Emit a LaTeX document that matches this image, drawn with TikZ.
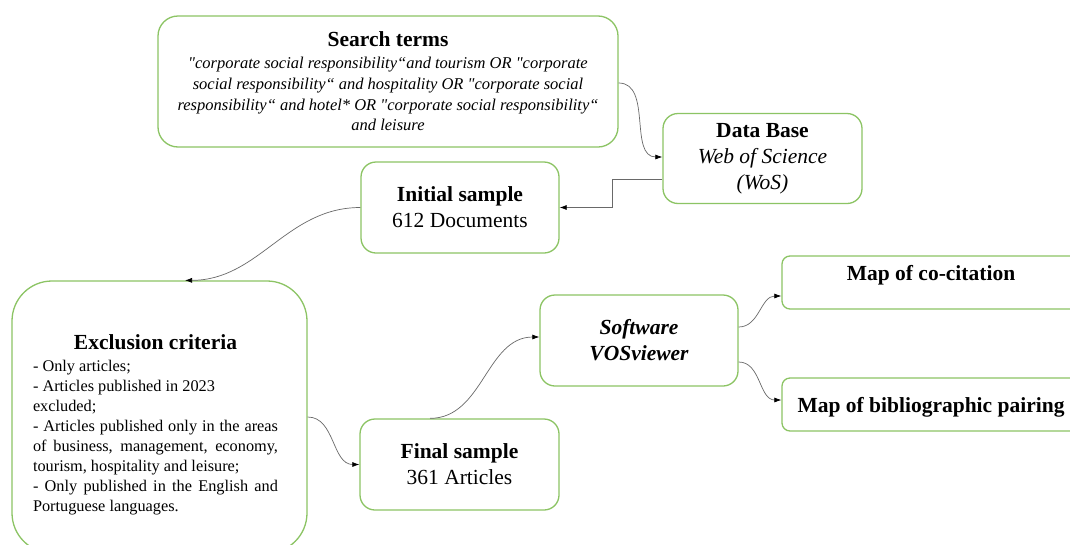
\documentclass[tikz,border=0pt]{standalone}
\usepackage{fontspec}
\setmainfont{Liberation Serif}[Ligatures=TeXOff]
\usetikzlibrary{arrows.meta}
\definecolor{boxgreen}{RGB}{140,196,100}
\definecolor{conngray}{RGB}{105,105,105}
\begin{document}
\begin{tikzpicture}[x=1pt,y=-1pt,
  box/.style={draw=boxgreen,line width=1.3pt,rounded corners=15pt,inner sep=0pt,align=center,fill=white},
  hfont/.style={font=\fontsize{21.5}{26}\selectfont},
  conn/.style={draw=conngray,line width=0.7pt,-{Latex[length=7pt,width=5pt,black]}}]
\useasboundingbox (0,0) rectangle (1070,544);
\clip (0,0) rectangle (1070,544);
\fill[white] (0,0) rectangle (1070,544);

% boxes
\node[box,rounded corners=20pt,minimum width=460pt,minimum height=131pt,
      font=\itshape\fontsize{16.5}{20.7}\selectfont] (search) at (388,81.5)
 {{\bfseries\upshape\fontsize{21.5}{22}\selectfont Search terms}\\[1.3pt]
  "corporate social responsibility“and tourism OR "corporate\\
  social responsibility“ and hospitality OR "corporate social\\
  responsibility“ and hotel* OR "corporate social responsibility“\\
  and leisure};

\node[box,hfont,minimum width=199pt,minimum height=90pt] (db) at (762.5,158.5)
 {\textbf{Data Base}\\ \textit{Web of Science}\\ \textit{(WoS)}};

\node[box,hfont,minimum width=198pt,minimum height=91pt] (initial) at (460,207.5)
 {\textbf{Initial sample}\\ 612 Documents};

\node[box,rounded corners=40pt,minimum width=295pt,minimum height=272pt] (excl) at (159.5,417)
 {\fontsize{16.3}{20}\selectfont
  \begin{tabular}{@{}l@{}}
  \multicolumn{1}{@{}c@{}}{\rule{0pt}{33pt}\bfseries\fontsize{21.5}{22}\selectfont Exclusion criteria}\\[2pt]
  - Only articles;\\
  - Articles published in 2023\\
  excluded;\\
  \makebox[245pt][s]{- Articles published only in the areas}\\
  \makebox[245pt][s]{of business, management, economy,}\\
  tourism, hospitality and leisure;\\
  \makebox[245pt][s]{- Only published in the English and}\\
  Portuguese languages.
  \end{tabular}\hspace*{8pt}};

\node[box,hfont,minimum width=199pt,minimum height=91pt] (final) at (459.5,464.5)
 {\textbf{Final sample}\\ 361 Articles};

\node[box,minimum width=198pt,minimum height=91pt,
      font=\bfseries\itshape\fontsize{21.5}{26}\selectfont] (soft) at (639,340.5)
 {Software\\ VOSviewer};

\node[box,rounded corners=8pt,minimum width=298pt,minimum height=53pt,
      font=\bfseries\fontsize{21.5}{26}\selectfont,text depth=19.6pt] (cocit) at (931,282.5)
 {Map of co-citation};

\node[box,rounded corners=8pt,minimum width=298pt,minimum height=53pt,
      font=\bfseries\fontsize{21.5}{26}\selectfont,text depth=0pt] (biblio) at (931,404.5)
 {Map of bibliographic pairing};

% connectors
\draw[conn] ([yshift=-1.5pt]search.east) to[out=0,in=180] ([yshift=1.5pt]db.west);
\draw[conn] ([yshift=-20.5pt]db.west) -- ++(-50,0) |- (initial.east);
\draw[conn] (initial.west) to[out=180,in=0] ([xshift=25.5pt]excl.north);
\draw[conn] (excl.east) to[out=0,in=180] (final.west);
\draw[conn] ([xshift=-29.5pt]final.north) to[out=0,in=180] ([yshift=3.5pt]soft.west);
\draw[conn] ([yshift=13.5pt]soft.east) to[out=0,in=180] ([yshift=-13.5pt]cocit.west);
\draw[conn] ([yshift=-21.5pt]soft.east) to[out=0,in=180] ([yshift=4.5pt]biblio.west);
\end{tikzpicture}
\end{document}
